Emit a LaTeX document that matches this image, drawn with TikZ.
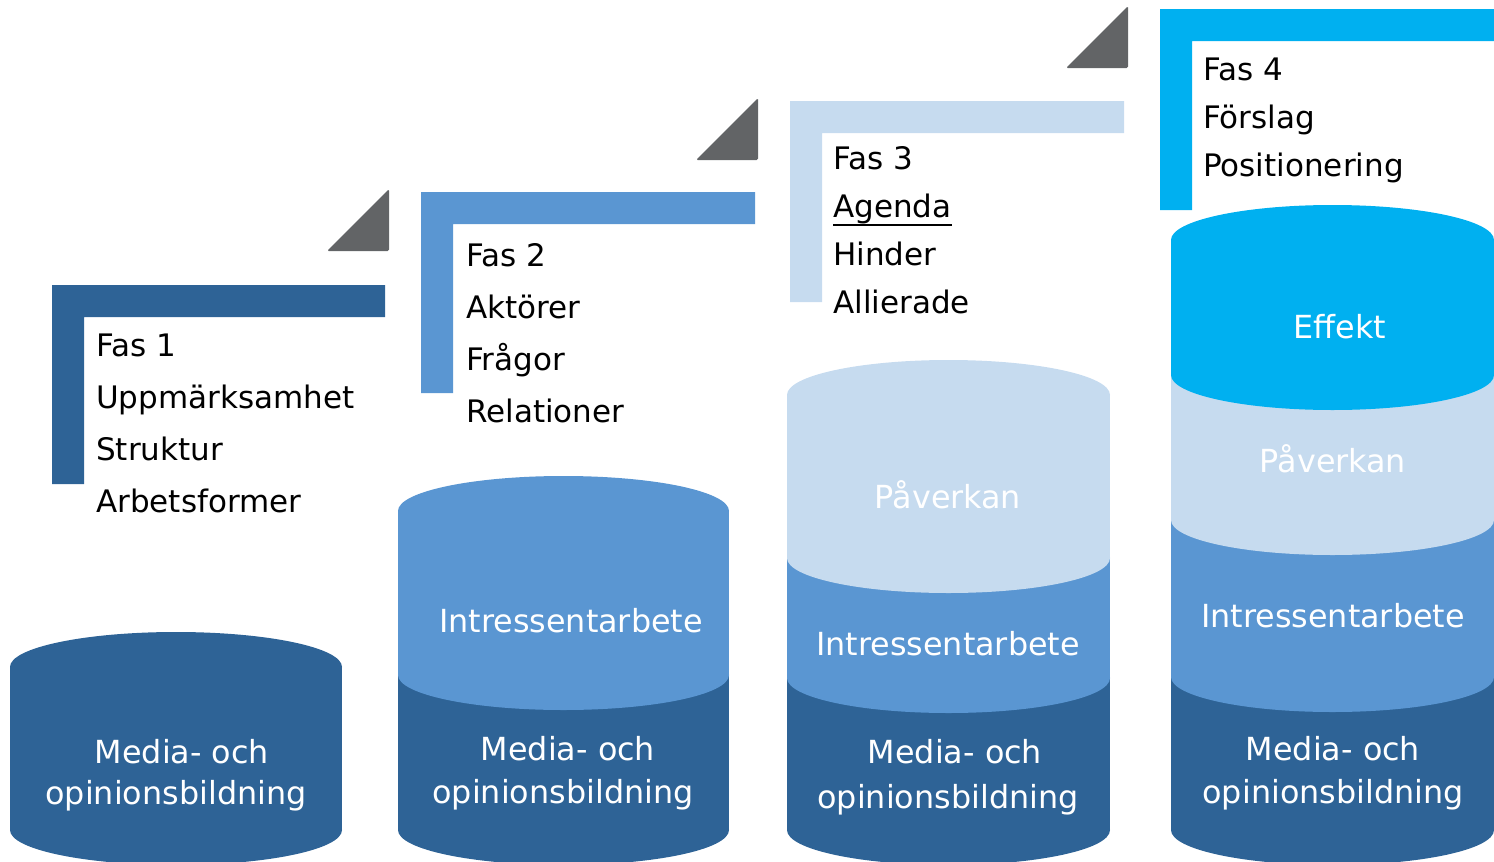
\documentclass[tikz,border=0pt]{standalone}
\usepackage{fontspec}
\setmainfont{DejaVu Sans}
\usetikzlibrary{positioning}
\definecolor{fasdark}{RGB}{46,99,150}
\definecolor{fasmid}{RGB}{90,150,210}
\definecolor{faslight}{RGB}{198,219,239}
\definecolor{fascyan}{RGB}{0,176,240}
\definecolor{fasgrey}{RGB}{98,100,102}

\begin{document}
\begin{tikzpicture}[x=1pt,y=-1pt,
  every node/.style={inner sep=0pt},
  fastext/.style={anchor=base west,text=black,font=\fontsize{31}{36}\selectfont},
  cyltext/.style={anchor=base,text=white,font=\fontsize{31.8}{36}\selectfont},
  arrowtri/.style={fill=fasgrey,rounded corners=1.5pt}
]
  \useasboundingbox (0,0) rectangle (1494,862);

  % L-shaped bars
  \foreach \x/\y/\r/\b/\c in {52/285/385/484/fasdark,421/192/755/393/fasmid,
                              790/101/1124/302/faslight,1160/9/1494/210/fascyan}
    \fill[\c] (\x,\y) -- (\r,\y) -- (\r,\y+32) -- (\x+32,\y+32) -- (\x+32,\b) -- (\x,\b) -- cycle;

  % grey steps
  \foreach \x/\y in {389/251,758/160,1128/68}
    \fill[arrowtri] (\x-62,\y) -- (\x,\y) -- (\x,\y-62) -- cycle;

  % cylinders, lowest layer first
  \foreach \cx/\rx/\t/\b/\c in {176/166/667/830/fasdark,
      563.5/165.5/675/830/fasdark, 563.5/165.5/511/675/fasmid,
      948.5/161.5/678/830/fasdark, 948.5/161.5/558/678/fasmid, 948.5/161.5/395/558/faslight,
      1332.5/161.5/677/830/fasdark, 1332.5/161.5/520/677/fasmid,
      1332.5/161.5/375/520/faslight, 1332.5/161.5/240/375/fascyan}
  {
    \fill[\c] (\cx-\rx,\t) rectangle (\cx+\rx,\b);
    \fill[\c] (\cx,\t) ellipse [x radius=\rx,y radius=35];
    \fill[\c] (\cx,\b) ellipse [x radius=\rx,y radius=35];
  }

  % phase texts
  \node[fastext] (fas1)   at (96,356) {Fas 1};
  \node[fastext] (fas1-a) at (96,408) {Uppmärksamhet};
  \node[fastext] (fas1-b) at (96,460) {Struktur};
  \node[fastext] (fas1-c) at (96,512) {Arbetsformer};

  \node[fastext] (fas2)   at (466,266) {Fas 2};
  \node[fastext] (fas2-a) at (466,318) {Aktörer};
  \node[fastext] (fas2-b) at (466,370) {Frågor};
  \node[fastext] (fas2-c) at (466,422) {Relationer};

  \node[fastext] (fas3)   at (833,169) {Fas 3};
  \node[fastext] (fas3-a) at (833,217) {Agenda};
  \draw[line width=2pt] ([yshift=-1pt]fas3-a.south west) -- ([yshift=-1pt]fas3-a.south east);
  \node[fastext] (fas3-b) at (833,265) {Hinder};
  \node[fastext] (fas3-c) at (833,313) {Allierade};

  \node[fastext] (fas4)   at (1203,80) {Fas 4};
  \node[fastext] (fas4-a) at (1203,128) {Förslag};
  \node[fastext] (fas4-b) at (1203,176) {Positionering};

  % cylinder labels
  \node[cyltext] (media1a) at (182,763) {Media- och};
  \node[cyltext] (media1b) at (176,804) {opinionsbildning};

  \node[cyltext] (intr2)   at (571,632) {Intressentarbete};
  \node[cyltext] (media2a) at (568,760) {Media- och};
  \node[cyltext] (media2b) at (563,803) {opinionsbildning};

  \node[cyltext] (pav3)    at (948,508) {Påverkan};
  \node[cyltext] (intr3)   at (948,655) {Intressentarbete};
  \node[cyltext] (media3a) at (955,763) {Media- och};
  \node[cyltext] (media3b) at (948,808) {opinionsbildning};

  \node[cyltext] (eff4)    at (1340,338) {Effekt};
  \node[cyltext] (pav4)    at (1333,472) {Påverkan};
  \node[cyltext] (intr4)   at (1333,627) {Intressentarbete};
  \node[cyltext] (media4a) at (1333,760) {Media- och};
  \node[cyltext] (media4b) at (1333,803) {opinionsbildning};
\end{tikzpicture}
\end{document}
